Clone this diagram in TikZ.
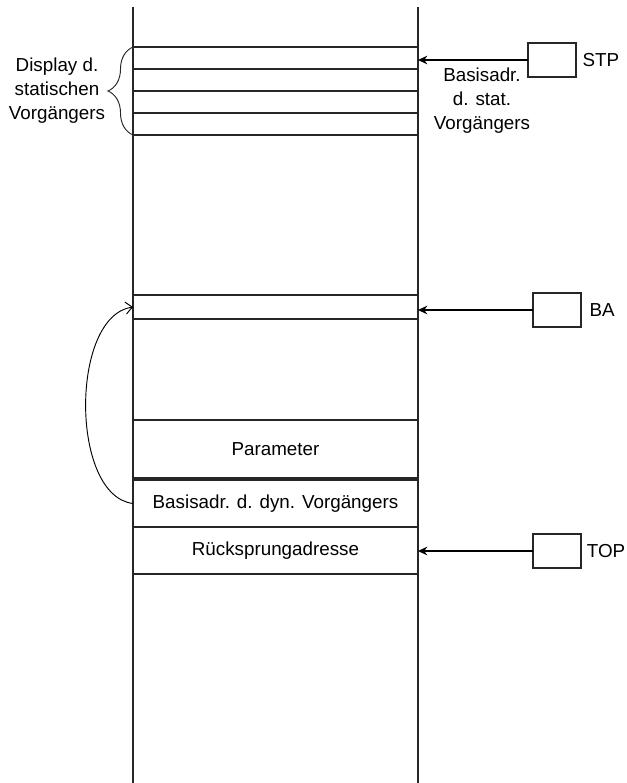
\documentclass[tikz,border=0pt]{standalone}
\usepackage{fontspec}
\setsansfont{Liberation Sans}
\usetikzlibrary{positioning, arrows.meta, fit, decorations.pathreplacing}

\begin{document}
\begin{tikzpicture}[
		x=0.75pt, y=-0.75pt,
		font=\sffamily\fontsize{14.1}{18}\selectfont,
		line width=0.9pt,
		% Stack cells and register boxes
		cell/.style={draw=black!85, inner sep=0pt, outer sep=0pt},
		regBox/.style={draw=black!85, minimum width=36pt, minimum height=25.5pt, inner sep=0pt, outer sep=0pt},
		regLabel/.style={inner sep=0pt, anchor=west},
		% Arrow styles
		ptrArrow/.style={-{Stealth[length=7pt, width=6.5pt]}, draw=black},
		linkArrow/.style={-{Straight Barb[length=5pt, width=9pt]}, draw=black, line width=0.7pt}
		]
		\useasboundingbox (0,0) rectangle (627,783);
		
		% =========================================================
		% STACK COLUMN
		% =========================================================
		\draw[black!85] (133,7) -- (133,783);
		\draw[black!85] (418,7) -- (418,783);
		
		% Display of the static predecessor
		\node[cell, fit={(133,47) (418,69)}] (Disp1) {};
		\node[cell, fit={(133,69) (418,91)}] (Disp2) {};
		\node[cell, fit={(133,91) (418,113)}] (Disp3) {};
		\node[cell, fit={(133,113) (418,135)}] (Disp4) {};
		
		\draw[black!85, line width=0.7pt, decorate, decoration={brace, amplitude=18.75pt}]
			(Disp4.south west) -- (Disp1.north west);
		\node[align=center] (DispLabel) at (57,91) {Display d.\\statischen\\Vorgängers};
		
		% Frame of the current procedure
		\node[cell, fit={(133,295) (418,319)}] (BaCell) {};
		\node[cell, fit={(133,420) (418,478)}, label=center:Parameter] (ParamCell) {};
		\node[cell, fit={(133,480) (418,527)}, label=center:Basisadr. d. dyn. Vorgängers] (DynCell) {};
		\node[cell, fit={(133,527) (418,574)}, label=center:Rücksprungadresse] (RetCell) {};
		
		% Link to the dynamic predecessor
		\draw[linkArrow] (DynCell.west) .. controls (70,496) and (70,316) .. (BaCell.west);
		
		% =========================================================
		% REGISTERS
		% =========================================================
		\node[regBox] (StpBox) at (552,60) {};
		\node[regLabel, right=4.5pt of StpBox] (StpLabel) {STP};
		\node[regBox] (BaBox) at (557,310) {};
		\node[regLabel, right=6pt of BaBox] (BaLabel) {BA};
		\node[regBox] (TopBox) at (557,551) {};
		\node[regLabel, right=4pt of TopBox] (TopLabel) {TOP};
		
		\node[align=center] (StpNote) at (482,101) {Basisadr.\\d. stat.\\Vorgängers};
		
		% Register pointers
		\draw[ptrArrow] (StpBox.west) -- (StpBox.west -| Disp1.east);
		\draw[ptrArrow] (BaBox.west) -- (BaBox.west -| BaCell.east);
		\draw[ptrArrow] (TopBox.west) -- (TopBox.west -| RetCell.east);
		
	\end{tikzpicture}
\end{document}
